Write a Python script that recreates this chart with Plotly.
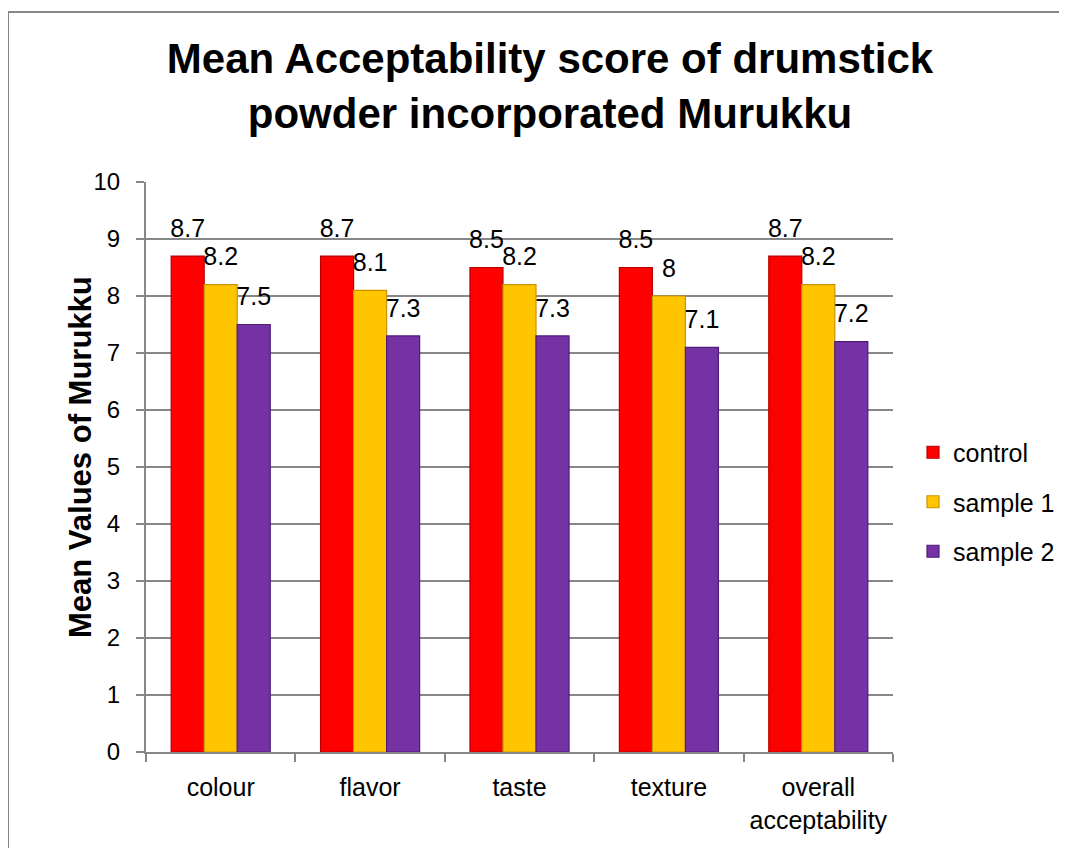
import plotly.graph_objects as go

categories = ["colour", "flavor", "taste", "texture", "overall<br>acceptability"]
series_names = ["control", "sample 1", "sample 2"]
control = [8.7, 8.7, 8.5, 8.5, 8.7]
sample1 = [8.2, 8.1, 8.2, 8.0, 8.2]
sample2 = [7.5, 7.3, 7.3, 7.1, 7.2]
y_ticks = [0, 1, 2, 3, 4, 5, 6, 7, 8, 9, 10]

values = [control, sample1, sample2]
fills = ["#FF0000", "#FFC600", "#7432A4"]
edges = ["#B80000", "#C99400", "#4E1C74"]

# page body has an 8px margin; work in page pixels and convert
OFF = 8
W, H = 1067 - OFF, 848 - OFF
L, R, T, B = 146 - OFF, 893 - OFF, 182 - OFF, 752 - OFF
pw, ph = R - L, B - T

FONT = "Liberation Sans, Arial, sans-serif"
GREY = "#878787"
LABEL_PAD = 0.2

fig = go.Figure()
for i, (name, vals) in enumerate(zip(series_names, values)):
    fig.add_trace(go.Bar(
        x=categories, y=vals, name=name, offsetgroup=str(i), legendgroup=name,
        marker=dict(color=fills[i], line=dict(color=edges[i], width=1.2)),
    ))
for i, vals in enumerate(values):
    fig.add_trace(go.Bar(
        x=categories, y=[LABEL_PAD] * len(vals), base=vals, offsetgroup=str(i),
        marker=dict(color="rgba(0,0,0,0)", line=dict(width=0)), showlegend=False,
        hoverinfo="skip",
        text=[f"{v:g}" for v in vals], textposition="outside", constraintext="none",
        textfont=dict(family=FONT, size=25, color="#000000"), cliponaxis=False,
    ))

def px_x(x):
    return (x - OFF - L) / pw

def px_y(y):
    return (B - (y - OFF)) / ph

fig.add_shape(type="rect", xref="paper", yref="paper",
              x0=px_x(8), x1=px_x(1080), y0=px_y(870), y1=px_y(12),
              line=dict(color=GREY, width=2), fillcolor="rgba(0,0,0,0)", layer="below")

fig.add_annotation(text="Mean Values of Murukku", xref="paper", yref="paper",
                   x=px_x(81), y=px_y(457), textangle=-90, showarrow=False,
                   xanchor="center", yanchor="middle",
                   font=dict(family=FONT, size=31, color="#000000", weight="bold"))

fig.update_layout(
    width=W, height=H,
    margin=dict(l=L, r=W - R, t=T, b=H - B, autoexpand=False),
    paper_bgcolor="white", plot_bgcolor="white",
    barmode="group", bargap=0.337, bargroupgap=0,
    title=dict(text="Mean Acceptability score of drumstick<br>powder incorporated Murukku",
               x=px_x(550), xanchor="center", xref="paper",
               y=1 - 65 / H, yanchor="top", yref="container",
               font=dict(family=FONT, size=42, color="#000000", weight="bold")),
    legend=dict(x=px_x(913), xanchor="left", y=px_y(502), yanchor="middle",
                traceorder="grouped", tracegroupgap=14,
                font=dict(family=FONT, size=25, color="#000000"),
                bgcolor="rgba(0,0,0,0)", itemwidth=30),
    xaxis=dict(type="category", showline=True, linecolor=GREY, linewidth=2,
               ticks="outside", tickson="boundaries", ticklen=8, tickcolor=GREY, tickwidth=2,
               ticklabelstandoff=12,
               tickfont=dict(family=FONT, size=25, color="#000000"), showgrid=False),
    yaxis=dict(range=[0, 10], tickvals=y_ticks, showline=True, linecolor=GREY, linewidth=2,
               ticks="outside", ticklen=8, tickcolor=GREY, tickwidth=2,
               showgrid=True, gridcolor=GREY, gridwidth=2, zeroline=False,
               ticklabelstandoff=11,
               tickfont=dict(family=FONT, size=24, color="#000000")),
)

fig.write_html("out.html")
